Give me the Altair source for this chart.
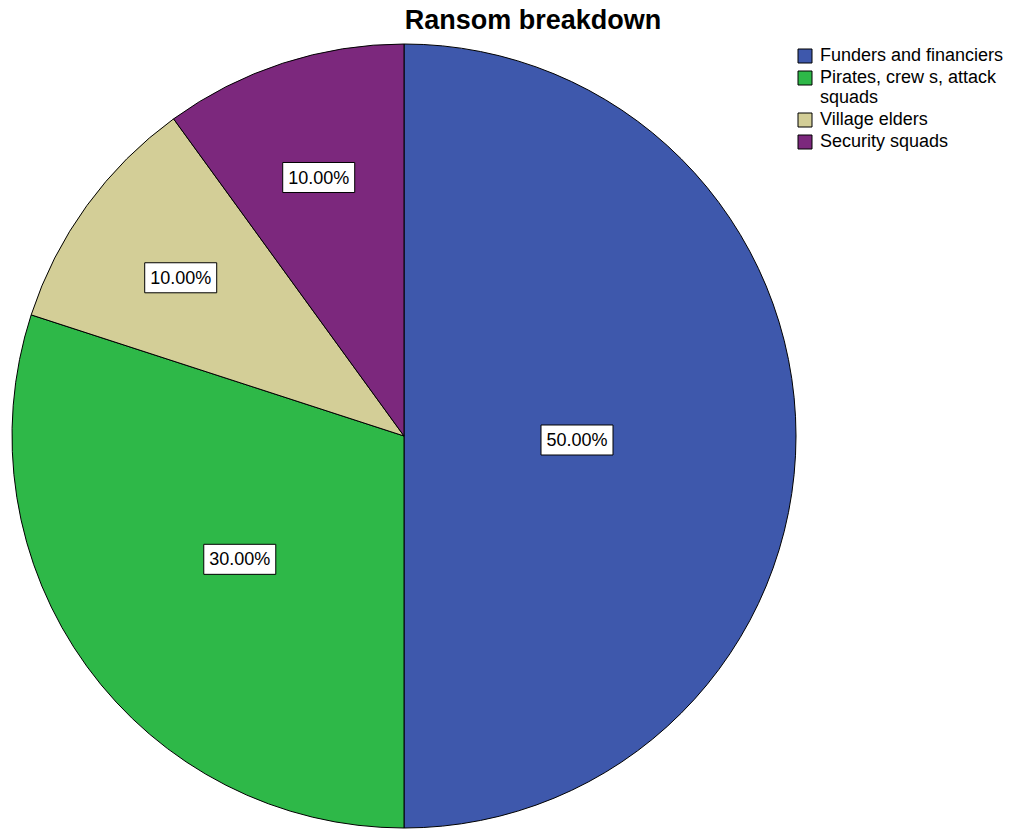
import altair as alt
import pandas as pd

categories = ["Funders and financiers", "Pirates, crew s, attack squads", "Village elders", "Security squads"]
shares = [50.0, 30.0, 10.0, 10.0]
label_texts = ["50.00%", "30.00%", "10.00%", "10.00%"]
colors = ["#3E58AC", "#2EB848", "#D3CE97", "#7C287D"]

df = pd.DataFrame({
    "category": categories,
    "share": shares,
    "label": label_texts,
    "idx": list(range(len(categories))),
})

R = 392
FONT = "Liberation Sans"

base = alt.Chart(df)

pie = base.mark_arc(stroke="black", strokeWidth=1, outerRadius=R).encode(
    theta=alt.Theta("share:Q", stack=True),
    color=alt.Color(
        "category:N",
        scale=alt.Scale(domain=categories, range=colors),
        sort=categories,
        legend=alt.Legend(
            title=None,
            orient="none",
            legendX=784,
            legendY=3,
            symbolType="square",
            symbolSize=196,
            symbolStrokeColor="black",
            symbolStrokeWidth=1,
            labelFont=FONT,
            labelFontSize=18,
            labelColor="black",
            labelOffset=6,
            labelLimit=400,
            rowPadding=4,
            labelExpr="datum.label == 'Pirates, crew s, attack squads' ? ['Pirates, crew s, attack', 'squads'] : datum.label",
        ),
    ),
    order=alt.Order("idx:Q"),
)

pos = base.transform_window(
    cum="sum(share)", sort=[alt.SortField("idx")], frame=[None, 0]
).transform_joinaggregate(
    total="sum(share)"
).transform_calculate(
    mid="2*PI*(datum.cum - datum.share/2)/datum.total",
    lr="datum.share >= 50 ? 173 : (datum.share >= 30 ? 203 : 276)",
).transform_calculate(
    px=f"{R} + datum.lr*sin(datum.mid)",
    py=f"{R} + 4 - datum.lr*cos(datum.mid)",
)

boxes = pos.mark_point(
    shape="M-1,-0.417L1,-0.417L1,0.417L-1,0.417Z",
    filled=True,
    fill="white",
    stroke="black",
    strokeWidth=1,
    opacity=1,
    size=5184,
).encode(
    x=alt.X("px:Q", scale=None),
    y=alt.Y("py:Q", scale=None),
)

texts = pos.mark_text(font=FONT, fontSize=18, color="black", baseline="middle", align="center", dy=1).encode(
    x=alt.X("px:Q", scale=None),
    y=alt.Y("py:Q", scale=None),
    text="label:N",
)

chart = alt.layer(pie, boxes, texts).properties(
    width=2 * R,
    height=2 * R,
    title=alt.TitleParams(
        "Ransom breakdown",
        font=FONT,
        fontSize=27,
        fontWeight="bold",
        color="black",
        anchor="middle",
        dx=129,
        offset=7,
    ),
    padding={"left": 12, "top": 44, "right": 215, "bottom": 3},
    autosize=alt.AutoSizeParams(type="none"),
).configure_view(stroke=None)

chart.save("out.html", embed_options={"renderer": "svg", "actions": False})
